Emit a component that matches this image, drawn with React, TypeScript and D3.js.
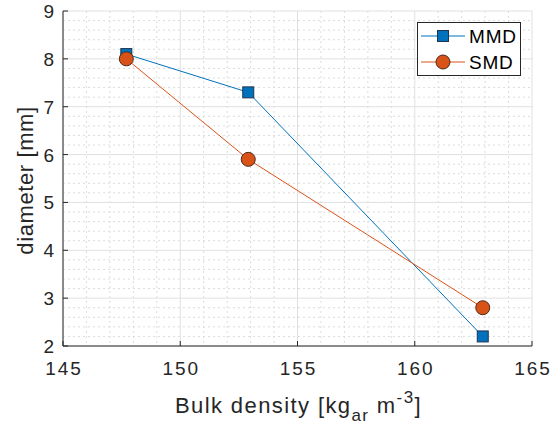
import React from "react";
import * as d3 from "d3";

const xValues = [147.7, 152.9, 162.9];
const mmdValues = [8.1, 7.3, 2.2];
const smdValues = [8.0, 5.9, 2.8];
const xTicks = [145, 150, 155, 160, 165];
const yTicks = [2, 3, 4, 5, 6, 7, 8, 9];
const seriesNames = ["MMD", "SMD"];

const W = 552, H = 430;
const L = 63, R = 532, T = 11, B = 346;
const FONT = "'Liberation Sans', Arial, Helvetica, sans-serif";
const TXT = "#262626";
const BLUE = "#0072BD";
const ORANGE = "#D95319";

export default function App() {
  const x = d3.scaleLinear().domain([145, 165]).range([L, R]);
  const y = d3.scaleLinear().domain([2, 9]).range([B, T]);
  const xMinor = d3.range(145, 165.001, 1).filter((v) => !xTicks.includes(Math.round(v * 1000) / 1000));
  const yMinor = d3.range(2, 9.001, 0.2).filter((v) => Math.abs(v - Math.round(v)) > 0.01);
  const line = d3.line<[number, number]>().x((d) => x(d[0])).y((d) => y(d[1]));
  const mmd = xValues.map((v, i) => [v, mmdValues[i]] as [number, number]);
  const smd = xValues.map((v, i) => [v, smdValues[i]] as [number, number]);

  return (
    <svg width={W} height={H} style={{ position: "absolute", left: 0, top: 0, background: "#fff" }} fontFamily={FONT}>
      {/* minor grid */}
      {xMinor.map((v) => (
        <line key={"xm" + v} x1={x(v)} x2={x(v)} y1={T} y2={B} stroke="#dcdcdc" strokeWidth={1} strokeDasharray="2,3" />
      ))}
      {yMinor.map((v) => (
        <line key={"ym" + v} x1={L} x2={R} y1={y(v)} y2={y(v)} stroke="#dcdcdc" strokeWidth={1} strokeDasharray="2,3" />
      ))}
      {/* major grid */}
      {xTicks.map((v) => (
        <line key={"xg" + v} x1={x(v)} x2={x(v)} y1={T} y2={B} stroke="#e0e0e0" strokeWidth={1} />
      ))}
      {yTicks.map((v) => (
        <line key={"yg" + v} x1={L} x2={R} y1={y(v)} y2={y(v)} stroke="#e0e0e0" strokeWidth={1} />
      ))}
      {/* axes */}
      <line x1={L} x2={R} y1={B} y2={B} stroke={TXT} strokeWidth={1} />
      <line x1={L} x2={L} y1={T} y2={B} stroke={TXT} strokeWidth={1} />
      {xTicks.map((v) => (
        <g key={"xt" + v}>
          <line x1={x(v)} x2={x(v)} y1={B} y2={B - 5} stroke={TXT} />
          <text x={x(v) + 1} y={B + 29} textAnchor="middle" fontSize={19} letterSpacing={2} fill={TXT}>{v}</text>
        </g>
      ))}
      {yTicks.map((v) => (
        <g key={"yt" + v}>
          <line x1={L} x2={L + 5} y1={y(v)} y2={y(v)} stroke={TXT} />
          <text x={L - 9} y={y(v) + 7} textAnchor="end" fontSize={19} fill={TXT}>{v}</text>
        </g>
      ))}
      {/* labels */}
      <text x={(L + R) / 2 + 1} y={413} textAnchor="middle" fontSize={22} letterSpacing={1.4} fill={TXT}>
        Bulk density [kg<tspan fontSize={17} dy={8}>ar</tspan>
        <tspan dy={-8}> m</tspan>
        <tspan fontSize={17} dy={-10}>-3</tspan>
        <tspan dy={10}>]</tspan>
      </text>
      <text transform={`translate(33,${(T + B) / 2 + 2}) rotate(-90)`} textAnchor="middle" fontSize={22} letterSpacing={0.6} fill={TXT}>
        diameter [mm]
      </text>
      {/* lines */}
      <path d={line(mmd) || ""} fill="none" stroke={BLUE} strokeWidth={1} />
      <path d={line(smd) || ""} fill="none" stroke={ORANGE} strokeWidth={1} />
      {mmd.map((d, i) => (
        <rect key={"m" + i} x={x(d[0]) - 5.5} y={y(d[1]) - 5.5} width={11} height={11} fill={BLUE} stroke="#1f3550" strokeWidth={1} />
      ))}
      {smd.map((d, i) => (
        <circle key={"s" + i} cx={x(d[0])} cy={y(d[1])} r={7} fill={ORANGE} stroke="#4a2a1a" strokeWidth={1} />
      ))}
      {/* legend */}
      <rect x={417.5} y={22.5} width={103} height={53} fill="#fff" stroke={TXT} strokeWidth={1} />
      <line x1={421} x2={465} y1={36} y2={36} stroke={BLUE} strokeWidth={1} />
      <rect x={443 - 5.5} y={36 - 5.5} width={11} height={11} fill={BLUE} stroke="#1f3550" />
      <text x={469} y={42.5} fontSize={19} letterSpacing={0.8} fill="#000">{seriesNames[0]}</text>
      <line x1={421} x2={465} y1={62} y2={62} stroke={ORANGE} strokeWidth={1} />
      <circle cx={443} cy={62} r={7} fill={ORANGE} stroke="#4a2a1a" />
      <text x={469} y={68.5} fontSize={19} letterSpacing={0.8} fill="#000">{seriesNames[1]}</text>
    </svg>
  );
}
